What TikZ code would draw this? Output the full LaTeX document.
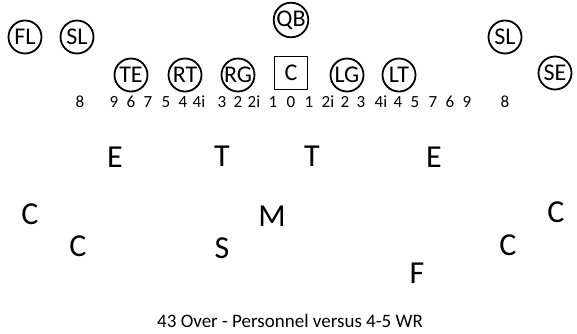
\documentclass[tikz,border=0pt]{standalone}
\usepackage{fontspec}
\setmainfont{Carlito}
\usetikzlibrary{shapes}
\tikzset{
    plyr/.style={draw,circle,line width=1.8pt,minimum size=33pt,inner sep=0pt,font=\fontsize{24}{24}\selectfont},
    ctr/.style={draw,rectangle,line width=1.8pt,minimum size=33pt,inner sep=0pt,font=\fontsize{24}{24}\selectfont},
    gap/.style={inner sep=0pt,font=\fontsize{17}{17}\selectfont},
    dfn/.style={inner sep=0pt,font=\fontsize{32}{32}\selectfont}
}

\begin{document}
\begin{tikzpicture}[x=1pt,y=-1pt]
    \useasboundingbox (0,0) rectangle (577,333);
    % offense
    \node[plyr] (FL) at (25,37) {FL};
    \node[plyr] (SLa) at (77,37) {SL};
    \node[plyr] (QB) at (291,20) {QB};
    \node[plyr] (SLb) at (505,37) {SL};
    \node[plyr] (SE) at (555,73) {SE};
    \node[plyr] (TE) at (131,75) {TE};
    \node[plyr] (RT) at (185,75) {RT};
    \node[plyr] (RG) at (238,75) {RG};
    \node[ctr] (C) at (291,73) {C};
    \node[plyr] (LG) at (347,75) {LG};
    \node[plyr] (LT) at (399,75) {LT};
    % gap numbers
    \node[gap] (G0) at (80,102) {8};
    \node[gap] (G1) at (114,102) {9};
    \node[gap] (G2) at (131,102) {6};
    \node[gap] (G3) at (148,102) {7};
    \node[gap] (G4) at (166,102) {5};
    \node[gap] (G5) at (183,102) {4};
    \node[gap] (G6) at (199,102) {4i};
    \node[gap] (G7) at (222,102) {3};
    \node[gap] (G8) at (238,102) {2};
    \node[gap] (G9) at (254,102) {2i};
    \node[gap] (G10) at (273,102) {1};
    \node[gap] (G11) at (291,102) {0};
    \node[gap] (G12) at (309,102) {1};
    \node[gap] (G13) at (328,102) {2i};
    \node[gap] (G14) at (345,102) {2};
    \node[gap] (G15) at (361,102) {3};
    \node[gap] (G16) at (381,102) {4i};
    \node[gap] (G17) at (398,102) {4};
    \node[gap] (G18) at (415,102) {5};
    \node[gap] (G19) at (433,102) {7};
    \node[gap] (G20) at (450,102) {6};
    \node[gap] (G21) at (467,102) {9};
    \node[gap] (G22) at (505,102) {8};
    % defense
    \node[dfn] (DE1) at (115,157) {E};
    \node[dfn] (DT1) at (222,156) {T};
    \node[dfn] (DT2) at (312,156) {T};
    \node[dfn] (DE2) at (434,157) {E};
    \node[dfn] (CB1) at (30,214) {C};
    \node[dfn] (CB2) at (78,246) {C};
    \node[dfn] (MLB) at (272,216) {M};
    \node[dfn] (SS) at (222,248) {S};
    \node[dfn] (CB3) at (508,245) {C};
    \node[dfn] (CB4) at (556,212) {C};
    \node[dfn] (FS) at (417,273) {F};
    % caption
    \node[inner sep=0pt,font=\fontsize{19}{19}\selectfont] (T) at (290,321) {43 Over - Personnel versus 4-5 WR};
\end{tikzpicture}
\end{document}
